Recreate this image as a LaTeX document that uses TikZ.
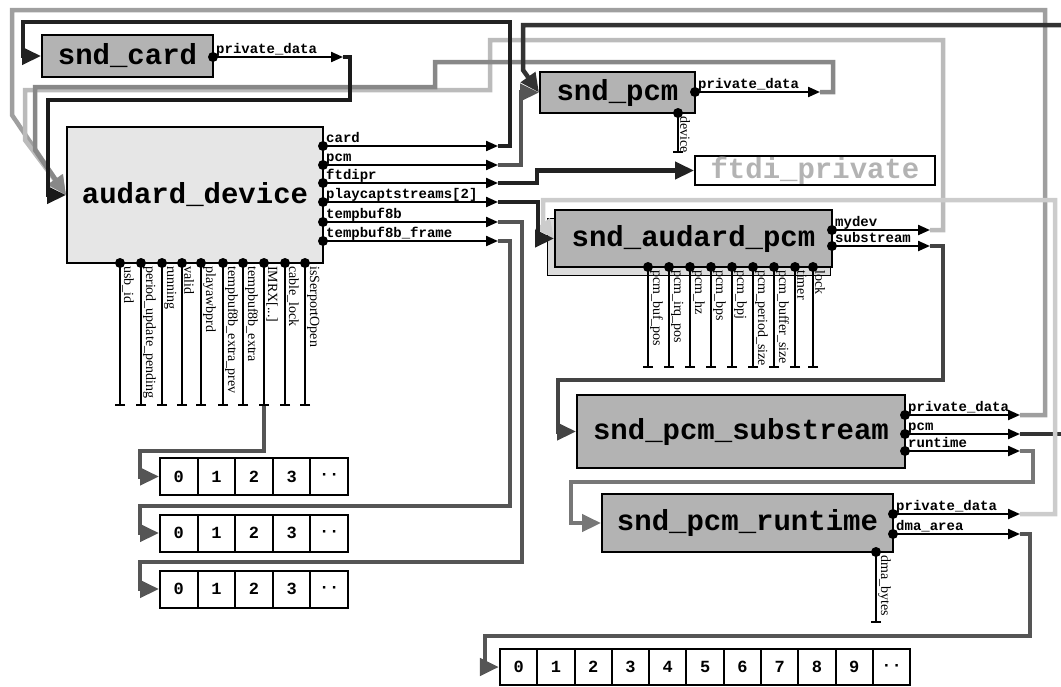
\documentclass[tikz,border=0pt]{standalone}
\usepackage{fontspec}
\setmainfont{Liberation Serif}
\setmonofont{Liberation Mono}
\usetikzlibrary{arrows.meta}
\definecolor{cA}{HTML}{1A1A1A}
\definecolor{cB}{HTML}{222222}
\definecolor{cThree}{HTML}{333333}
\definecolor{cFour}{HTML}{444444}
\definecolor{cFive}{HTML}{555555}
\definecolor{cSeven}{HTML}{777777}
\definecolor{cEight}{HTML}{888888}
\definecolor{cNine}{HTML}{9F9F9F}
\definecolor{cLb}{HTML}{BBBBBB}
\definecolor{cLc}{HTML}{CCCCCC}
\definecolor{nodeGray}{HTML}{B3B3B3}
\definecolor{adFill}{HTML}{E6E6E6}
\definecolor{shFill}{HTML}{DCDCDC}
\tikzset{
 box/.style={draw=black, line width=2pt, fill=#1, inner sep=0pt, font=\ttfamily\bfseries\fontsize{29}{29}\selectfont},
 port/.style={circle, fill=black, minimum size=10pt, inner sep=0pt},
 portline/.style={draw=black, line width=2.2pt, -{Triangle[length=12pt,width=10pt]}},
 plabel/.style={anchor=base west, inner sep=0pt, font=\ttfamily\bfseries\fontsize{14}{14}\selectfont},
 bline/.style={draw=black, line width=2pt, -{Bar[width=10pt]}},
 blabel/.style={rotate=-90, anchor=south west, inner sep=0pt, font=\rmfamily\fontsize{14}{14}\selectfont},
 conn/.style={line width=4.5pt, draw=#1, -{Triangle[length=19pt,width=17pt]}},
 connplain/.style={line width=4.5pt, draw=#1},
 cell/.style={draw=black, line width=2pt, fill=white, minimum width=37.6pt, minimum height=37pt, inner sep=0pt, font=\ttfamily\bfseries\fontsize{17}{17}\selectfont},
}
\newcommand{\myRport}[5]{%
 \node[port] (#1) at (#2,#3) {};
 \coordinate (#1-t) at (#4,#3);
 \draw[portline] (#1.center) -- (#1-t);
 \node[plabel] (#1-l) at (#2+3,#3-4) {#5};
}
\newcommand{\myBport}[5]{%
 \node[port] (#1) at (#2,#3) {};
 \coordinate (#1-t) at (#2,#4);
 \draw[bline] (#1.center) -- (#1-t);
 \node[blabel] (#1-l) at (#2+2,#3+3) {#5};
}
\begin{document}
\begin{tikzpicture}[x=1pt,y=-1pt, line join=miter, line cap=butt]
\useasboundingbox (0,0) rectangle (1061,686);
\clip (0,0) rectangle (1061,686);

% ---------- nodes ----------
\node[box=nodeGray, minimum width=171pt, minimum height=42pt] (sc) at (127.5,56) {snd\_card};
\node[box=adFill, minimum width=256pt, minimum height=136pt] (ad) at (195,195) {audard\_device};
\node[box=nodeGray, minimum width=155pt, minimum height=41pt] (sp) at (617.5,92.5) {snd\_pcm};
\node[box=white, text=nodeGray, minimum width=240pt, minimum height=29pt] (ftdi) at (815,170.5) {ftdi\_private};
\node[draw=black, line width=1pt, fill=shFill, minimum width=283pt, minimum height=57pt] (sapsh) at (688.5,246.5) {};
\node[box=nodeGray, minimum width=277pt, minimum height=57pt] (sap) at (693.5,238.5) {snd\_audard\_pcm};
\node[box=nodeGray, minimum width=328pt, minimum height=73pt] (ss) at (741,431.5) {snd\_pcm\_substream};
\node[box=nodeGray, minimum width=291pt, minimum height=58pt] (rt) at (747.5,523) {snd\_pcm\_runtime};

% arrays
\foreach \lab [count=\i from 0] in {0,1,2,3,··}
  \node[cell] (arrA-\i) at (178.8+37.6*\i,476.5) {\lab};
\foreach \lab [count=\i from 0] in {0,1,2,3,··}
  \node[cell] (arrB-\i) at (178.8+37.6*\i,533) {\lab};
\foreach \lab [count=\i from 0] in {0,1,2,3,··}
  \node[cell] (arrC-\i) at (178.8+37.6*\i,589) {\lab};
\foreach \lab [count=\i from 0] in {0,1,2,3,4,5,6,7,8,9,··}
  \node[cell, minimum width=37.3pt, minimum height=36pt] (arrD-\i) at (518.6+37.3*\i,667) {\lab};

% ---------- ports ----------
\myRport{sc-pd}{213}{57}{343}{private\_data}
\myRport{sp-pd}{695}{92}{820}{private\_data}
\myRport{ad-card}{323}{146}{498}{card}
\myRport{ad-pcm}{323}{165}{498}{pcm}
\myRport{ad-ftdipr}{323}{183}{498}{ftdipr}
\myRport{ad-pcs}{323}{202}{498}{playcaptstreams[2]}
\myRport{ad-tb}{323}{222}{498}{tempbuf8b}
\myRport{ad-tbf}{323}{241}{498}{tempbuf8b\_frame}
\myRport{sap-mydev}{832}{230}{930}{mydev}
\myRport{sap-ss}{832}{246}{930}{substream}
\myRport{ss-pd}{905}{415}{1020}{private\_data}
\myRport{ss-pcm}{905}{434}{1020}{pcm}
\myRport{ss-rt}{905}{451}{1020}{runtime}
\myRport{rt-pd}{893}{514}{1020}{private\_data}
\myRport{rt-dma}{893}{534}{1020}{dma\_area}

\myBport{sp-dev}{678}{113}{153}{device}
\myBport{rt-dmab}{876}{552}{623}{dma\_bytes}

\myBport{ad-b1}{120}{263}{406}{usb\_id}
\myBport{ad-b2}{141}{263}{406}{period\_update\_pending}
\myBport{ad-b3}{162}{263}{406}{running}
\myBport{ad-b4}{182}{263}{406}{valid}
\myBport{ad-b5}{201}{263}{406}{playawbprd}
\myBport{ad-b6}{223}{263}{406}{tempbuf8b\_extra\_prev}
\myBport{ad-b7}{243}{263}{406}{tempbuf8b\_extra}
\myBport{ad-b8}{264}{263}{406}{IMRX[...]}
\myBport{ad-b9}{285}{263}{406}{cable\_lock}
\myBport{ad-b10}{305}{263}{406}{isSerportOpen}

\myBport{sap-b1}{648}{267}{368}{pcm\_buf\_pos}
\myBport{sap-b2}{669}{267}{368}{pcm\_irq\_pos}
\myBport{sap-b3}{690}{267}{368}{pcm\_hz}
\myBport{sap-b4}{711}{267}{368}{pcm\_bps}
\myBport{sap-b5}{732}{267}{368}{pcm\_bpj}
\myBport{sap-b6}{753}{267}{368}{pcm\_period\_size}
\myBport{sap-b7}{774}{267}{368}{pcm\_buffer\_size}
\myBport{sap-b8}{795}{267}{368}{timer}
\myBport{sap-b9}{813}{267}{368}{lock}

\coordinate (edgeR) at (1064,434);
\coordinate (edgeT) at (1064,25);

% ---------- connectors ----------
\draw[conn=cNine] (ss-pd-t) -- (1045,415) -- (1045,10) -- (12,10) -- (12,115) -- (ad.west);
\draw[conn=cLb] (sap-mydev-t) -- (943,230) -- (943,40) -- (490,40) -- (490,90) -- (25,90) -- (25,140) -- (ad.west);
\draw[conn=cEight] (sp-pd-t) -- (833,92) -- (833,62) -- (435,62) -- (435,87) -- (35,87) -- (35,150) -- (ad.west);
\draw[conn=cA] (sc-pd-t) -- (350,57) -- (350,100) -- (48,100) |- (ad.west);
\draw[conn=cB] (ad-card-t) -- (510,146) -- (510,22) -- (23,22) |- (sc.west);
\draw[connplain=cThree] (ss-pcm-t) -- (edgeR);
\draw[conn=cThree] (edgeT) -- (523,25) -- (523,70) -- (sp.west);
\draw[conn=cFive] (ad-pcm-t) -- (521,165) |- (sp.west);
\draw[conn=cB] (ad-ftdipr-t) -- (537,183) |- (ftdi.west);
\draw[conn=cLc] (rt-pd-t) -- (1055,514) -- (1055,200) -- (543,200) -- (543,224) -- (sap.west);
\draw[conn=cB] (ad-pcs-t) -- (538,202) |- (sap.west);
\draw[conn=cFive] (ad-tb-t) -- (522,222) -- (522,562) -- (140,562) |- (arrC-0.west);
\draw[conn=cFive] (ad-tbf-t) -- (510,241) -- (510,506) -- (140,506) |- (arrB-0.west);
\draw[conn=cFive] (ad-b8-t) -- (264,451) -- (140,451) |- (arrA-0.west);
\draw[conn=cFour] (sap-ss-t) -- (943,246) -- (943,380) -- (558,380) |- (ss.west);
\draw[conn=cSeven] (ss-rt-t) -- (1033,451) -- (1033,482) -- (571,482) |- (rt.west);
\draw[conn=cFive] (rt-dma-t) -- (1030,534) -- (1030,636) -- (485,636) |- (arrD-0.west);
\end{tikzpicture}
\end{document}
